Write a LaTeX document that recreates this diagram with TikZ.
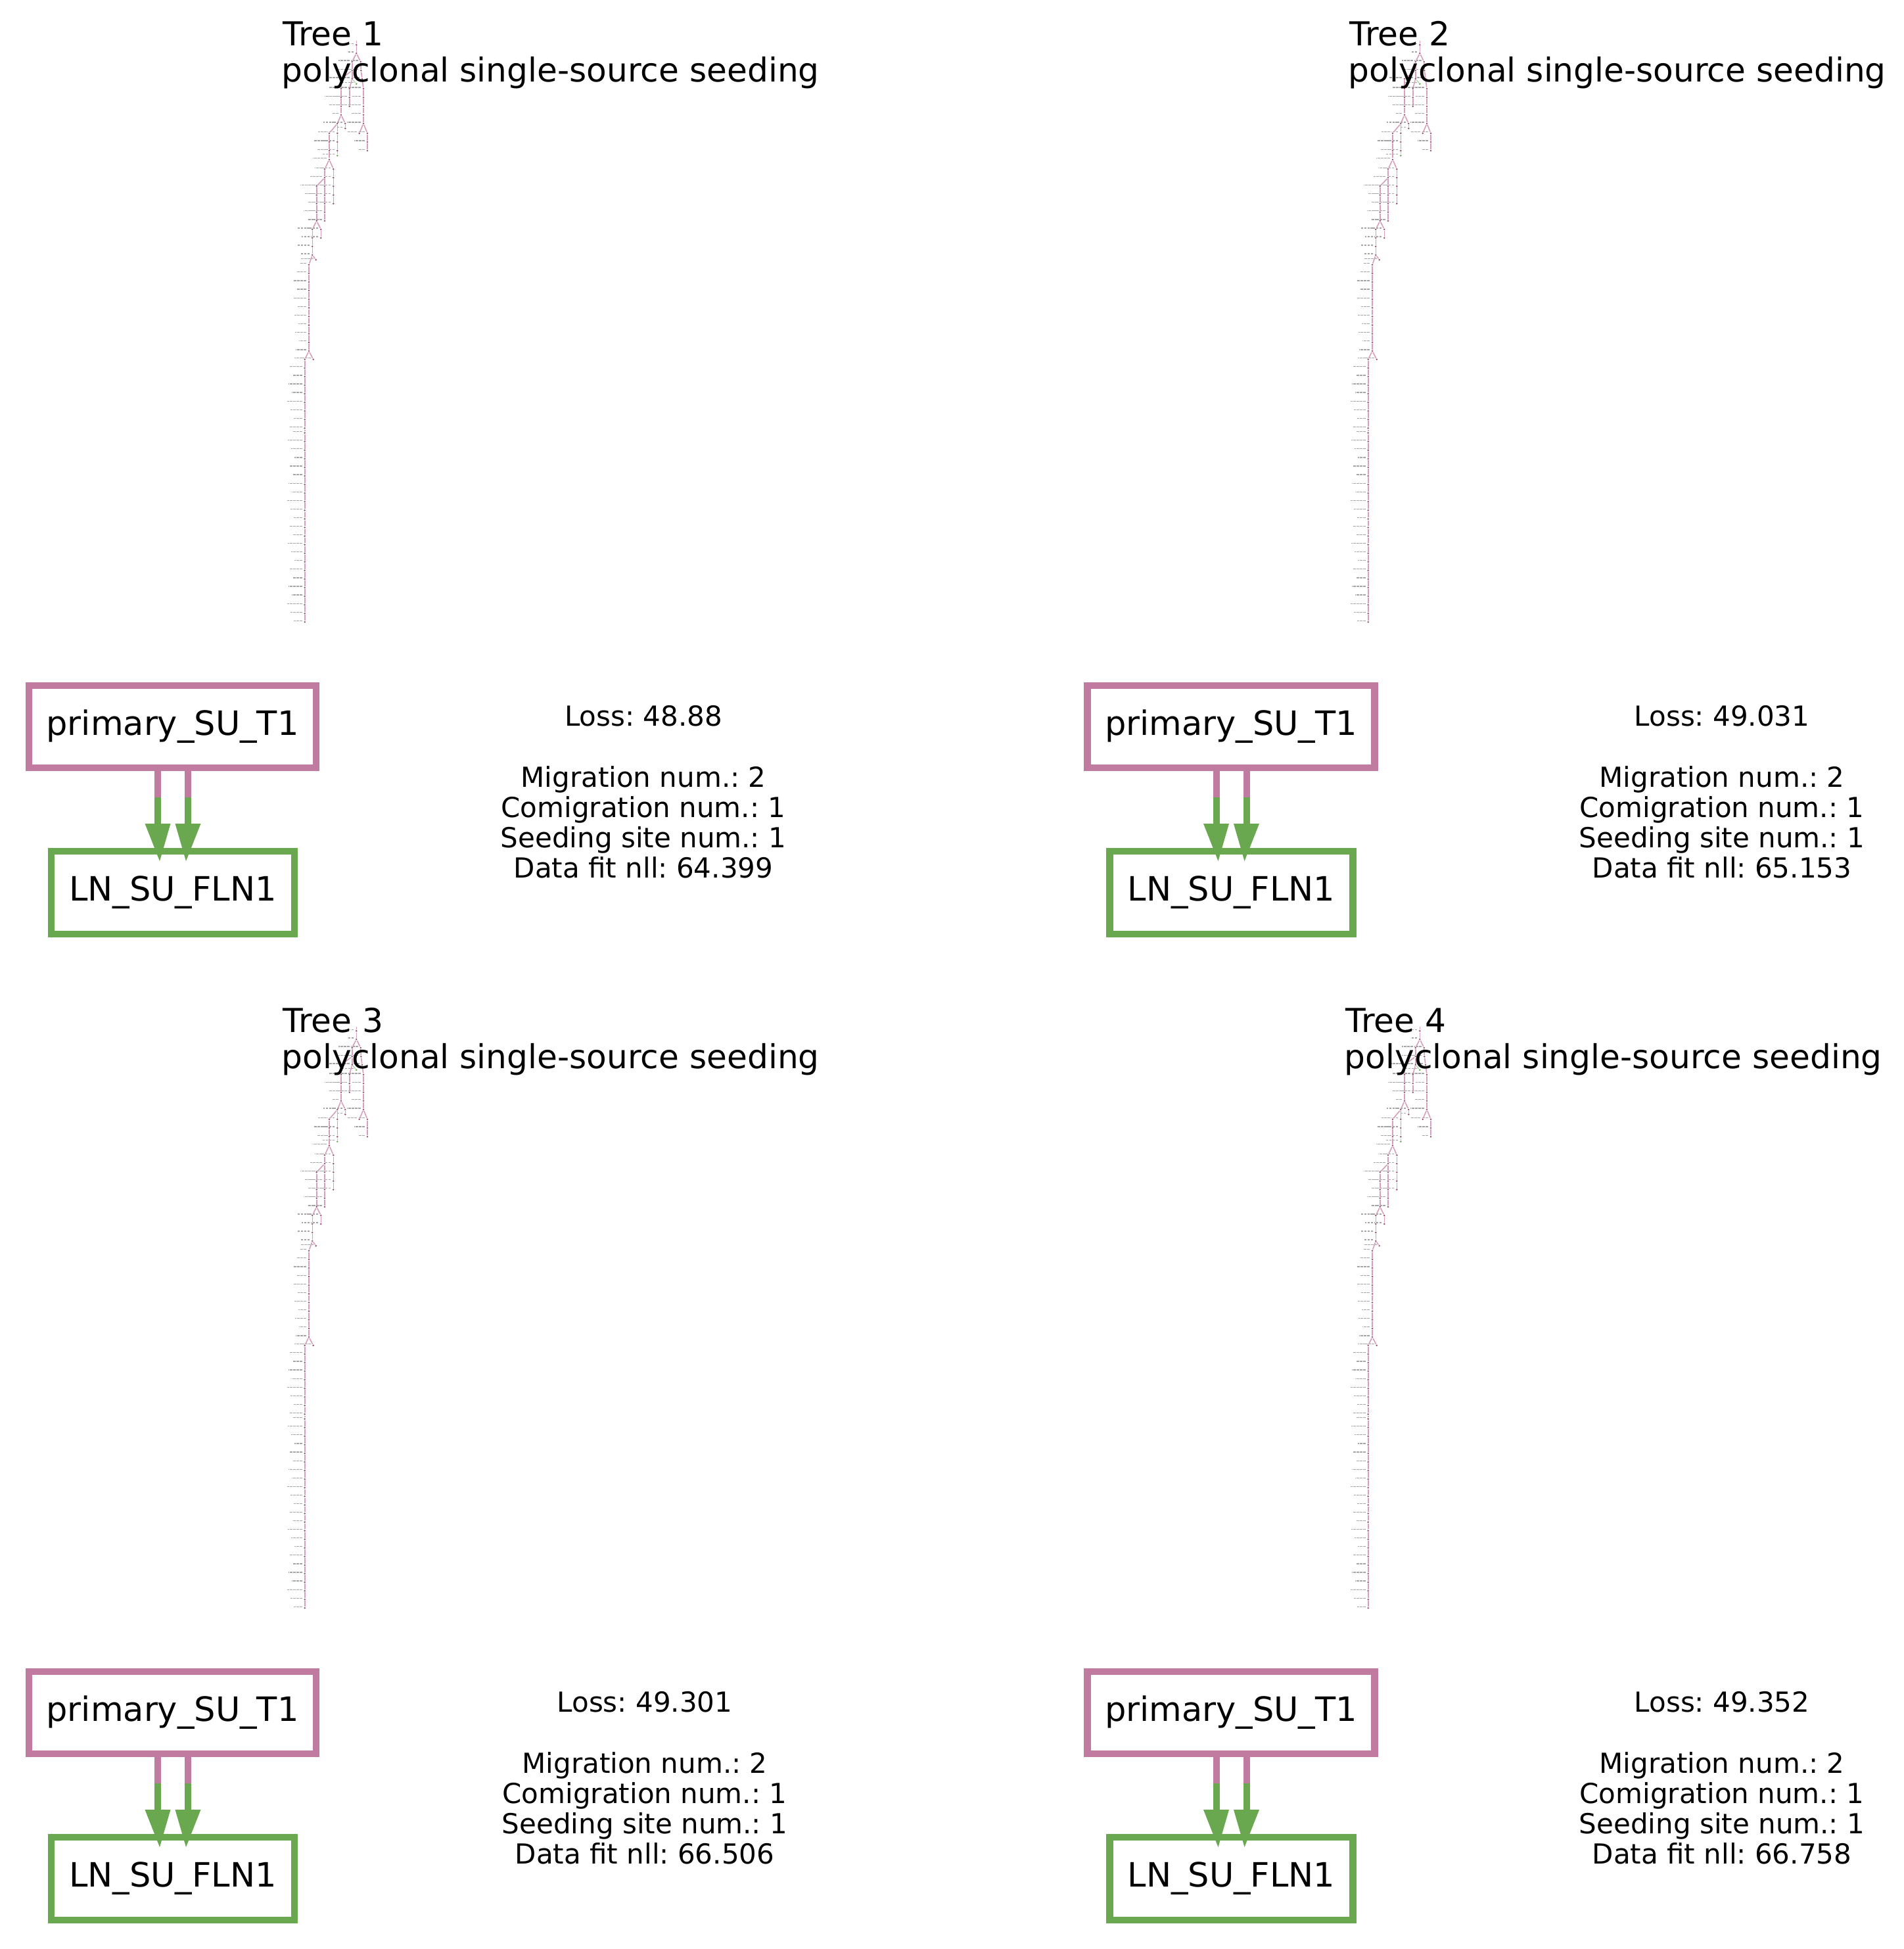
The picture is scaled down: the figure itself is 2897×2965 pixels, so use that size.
\documentclass[tikz,border=0pt]{standalone}
\usepackage{fontspec}
\setmainfont{DejaVu Sans}
\usetikzlibrary{calc}
\frenchspacing

\definecolor{primpink}{HTML}{C27BA0}
\definecolor{lngreen}{HTML}{6AA84F}
\definecolor{treeedge}{RGB}{214,160,188}
\definecolor{treedot}{RGB}{150,80,115}
\definecolor{treelbl}{RGB}{165,165,165}

\tikzset{
  site/.style={draw, line width=2.625pt, fill=white, inner sep=0pt, outer sep=0pt,
    font=\fontsize{12.75pt}{15pt}\selectfont},
  primbox/.style={site, draw=primpink, minimum width=109.25pt, minimum height=31.25pt},
  lnbox/.style={site, draw=lngreen, minimum width=92.6pt, minimum height=31.5pt},
  migpink/.style={draw=primpink, line width=2.5pt},
  miggreen/.style={draw=lngreen, line width=2.5pt},
  info/.style={anchor=base, inner sep=0pt, font=\fontsize{10.5pt}{12pt}\selectfont},
  ttl/.style={anchor=base west, inner sep=0pt, font=\fontsize{12.55pt}{15pt}\selectfont},
  tn/.style={circle, fill=treedot, inner sep=0pt, minimum size=0.7pt},
  tg/.style={circle, fill=lngreen, inner sep=0pt, minimum size=0.7pt},
  te/.style={draw=treeedge, line width=0.4pt},
  tge/.style={draw=lngreen!55, line width=0.3pt},
  tl/.style={draw=treelbl, line width=0.3pt, dash pattern=on 0.9pt off 0.35pt},
}

% clone tree: nodes, their (tiny) labels and the parent-child edges
\newcommand\clonetree{%
  \coordinate (top) at (542.3,61.7);
  \foreach \nm/\x/\y/\st [count=\k] in {
    r0/542.3/68.3/tn, r1/542.3/81/tn, a/535.7/94/tn, b/548.7/94/tn,
    b1/549.3/107.3/tn, b2/551/120/tn, b3/553/135/tn, b4/553/148.3/tn,
    b5/553/161.7/tn, b6/553/174.7/tn, b7/553/188/tn, b8/546.7/202.7/tn,
    b9/559/202.7/tn, b10/559/216/tn, b11/559/229.3/tn,
    a1/535.7/107.3/tn, a2/535.7/120/tn, ag/542.3/127.7/tg,
    a3/531.7/135/tn, a4/531.7/148.3/tn, a5/531.7/161.7/tn,
    c0/519/120/tn, c1/519/135/tn, c2/519/148.3/tn, c3/519/161.7/tn, c4/519/174.7/tn,
    d0/525.3/188/tn, d1/525.3/195.3/tn, e0/513.3/188/tn,
    f0/513.3/202.7/tn, f1/513.3/216/tn, f2/513.3/229.3/tn, fg/513.3/236.7/tg,
    g0/501/202.7/tn, g1/501/216/tn, g2/501/229.3/tn, g3/501/242.7/tn,
    h0/507.3/257.3/tn, h1/507.3/270.3/tn, h2/507.3/283.3/tn, h3/507.3/296.7/tn, h4/507.3/309.7/tn,
    i0/494/257.3/tn, i1/494/270.3/tn,
    j0/494/283.3/tn, j1/494/296.7/tn, j2/494/309.7/tn, j3/494/322.7/tn, j4/494/336/tn,
    k0/481.7/283.3/tn, k1/481.7/296.7/tn, k2/481.7/309.7/tn, k3/481.7/322.7/tn, k4/481.7/336/tn,
    l0/488.3/349/tn, l1/488.3/362/tn,
    m0/475.3/349/tn, m1/475.3/362/tn, m2/475.3/375/tn, m3/475.3/388/tn,
    o0/480.7/395.3/tn, q0/476.7/546.8/tn}{
    \node[\st] (\nm) at (\x,\y) {};
    \draw[tl] (\x-4,\y-2) -- ++({-9-mod(7*\k,13)},0);
  }
  % trunk above the last split
  \foreach \i in {0,...,10}{
    \node[tn] (p\i) at (470,{402.7+13.13*\i}) {};
    \draw[tl] (466,{400.7+13.13*\i}) -- ++({-10-mod(5*\i,11)},0);
  }
  % long lower trunk
  \foreach \i in {0,...,31}{
    \pgfmathsetmacro\yy{\i<9 ? 546.8+13.07*\i : (\i==9 ? 658.6 : 671.8+13.07*(\i-10))}
    \node[tn] (s\i) at (463.7,\yy) {};
    \draw[tl] (459.7,\yy-2) -- ++({-12-mod(7*\i,12)},0);
  }
  \draw[te] (top) -- (r0);
  \foreach \u/\v in {r0/r1, r1/a, r1/b, b/b1, b1/b2, b2/b3, b3/b4, b4/b5, b5/b6, b6/b7,
    b7/b8, b7/b9, b9/b10, b10/b11, a/a1, a1/a2, a1/c0, a2/a3, a3/a4, a4/a5,
    c0/c1, c1/c2, c2/c3, c3/c4, c4/d0, c4/e0, d0/d1, e0/f0, e0/g0, f0/f1, f1/f2,
    g0/g1, g1/g2, g2/g3, g3/h0, g3/i0, h0/h1, h1/h2, h2/h3, h3/h4, i0/i1, i1/j0, i1/k0,
    j0/j1, j1/j2, j2/j3, j3/j4, k0/k1, k1/k2, k2/k3, k3/k4, k4/l0, k4/m0, l0/l1,
    m0/m1, m1/m2, m2/m3, m3/o0, m3/p0, p10/q0, p10/s0}
    \draw[te] (\u) -- (\v);
  \draw[tge] (a2) -- (ag);
  \draw[tge] (f2) -- (fg);
  \foreach \i in {1,...,10}{\pgfmathtruncatemacro\j{\i-1}\draw[te] (p\j) -- (p\i);}
  \foreach \i in {1,...,31}{\pgfmathtruncatemacro\j{\i-1}\draw[te, line width=0.55pt] (s\j) -- (s\i);}
}

% one result panel: #1 box dx, #2 dy, #3 text centre x, #4 title x, #5 tree dx,
% #6 tree number, #7 loss, #8 data fit nll
\newcommand\panel[8]{%
  \begin{scope}[name prefix=P#6-]
    \begin{scope}[shift={(#5,#2)}]
      \clonetree
    \end{scope}
    \node[ttl] (title) at (#4,70+#2) {Tree #6};
    \node[ttl] (kind) at (#4-2,125+#2) {polyclonal single-source seeding};
    \node[primbox] (prim) at (262.5+#1,1105.5+#2) {primary\_SU\_T1};
    \node[lnbox] (ln) at (263+#1,1358+#2) {LN\_SU\_FLN1};
    % two migrations, pink at the source half, green at the target half
    \draw[migpink] ($(prim.south)+(-22.5,0)$) -- ++(0,45);
    \draw[miggreen] ($(prim.south)+(-22.5,45)$) -- ++(0,42);
    \fill[lngreen] ($(prim.south)+(-42,85)$) -- ($(prim.south)+(-3,85)$)
      -- ($(ln.north)+(-20,15)$) -- cycle;
    \draw[migpink] ($(prim.south)+(23.5,0)$) -- ++(0,45);
    \draw[miggreen] ($(prim.south)+(23.5,45)$) -- ++(0,42);
    \fill[lngreen] ($(prim.south)+(4,85)$) -- ($(prim.south)+(43,85)$)
      -- ($(ln.north)+(20,15)$) -- cycle;
    \node[info] (loss) at (#3,1104+#2) {Loss: #7};
    \node[info] (mig) at (#3,1197+#2) {Migration num.: 2};
    \node[info] (comig) at (#3,1243+#2) {Comigration num.: 1};
    \node[info] (seed) at (#3,1289+#2) {Seeding site num.: 1};
    \node[info] (fit) at (#3,1335+#2) {Data fit nll: #8};
  \end{scope}
}

\begin{document}
\begin{tikzpicture}[x=0.25pt,y=-0.25pt]
  \fill[white] (0,0) rectangle (2897,2965);
  \useasboundingbox (0,0) rectangle (2897,2965);
  \panel{0}{0}{979}{430}{0}{1}{48.88}{64.399}
  \panel{1610.5}{0}{2620}{2053}{1618}{2}{49.031}{65.153}
  \panel{0}{1500}{981}{430}{0}{3}{49.301}{66.506}
  \panel{1610.5}{1500}{2620}{2047}{1618}{4}{49.352}{66.758}
\end{tikzpicture}
\end{document}
